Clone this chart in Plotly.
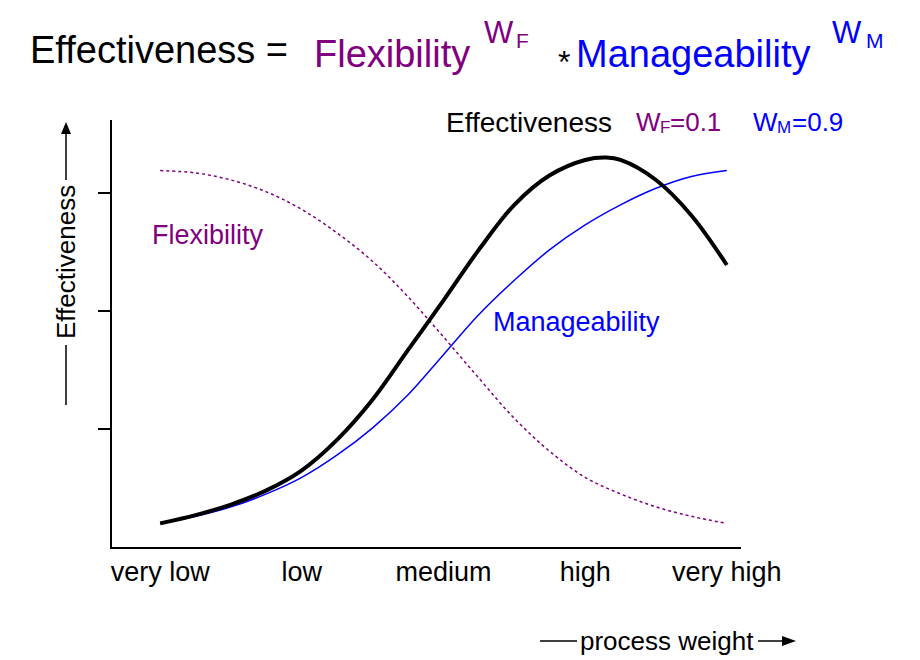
import plotly.graph_objects as go

categories = ["very low", "low", "medium", "high", "very high"]
x_pos = [0, 0.25, 0.5, 0.75, 1, 1.25, 1.5, 1.75, 2, 2.25, 2.5, 2.75, 3, 3.25, 3.5, 3.75, 4]
flexibility = [3.19, 3.17, 3.11, 3.01, 2.86, 2.66, 2.42, 2.12, 1.78, 1.43, 1.09, 0.81, 0.59, 0.45, 0.34, 0.26, 0.20]
manageability = [0.20, 0.26, 0.34, 0.45, 0.59, 0.78, 1.01, 1.29, 1.63, 1.97, 2.26, 2.52, 2.73, 2.90, 3.04, 3.14, 3.19]
eff_x = [0, 0.25, 0.5, 0.75, 1, 1.25, 1.5, 1.75, 2, 2.25, 2.5, 2.75, 3, 3.15, 3.25, 3.5, 3.75, 4]
effectiveness = [0.20, 0.27, 0.36, 0.48, 0.65, 0.91, 1.25, 1.67, 2.09, 2.52, 2.90, 3.15, 3.28, 3.30, 3.28, 3.11, 2.81, 2.39]

PURPLE = "#800080"
BLUE = "#0000FF"
FONT = "Liberation Sans, Arial"

L, R, T, B = 112, 741, 120, 547
OFF = 8
def px(x): return (x - L) / (R - L)
def py(y): return (B - y) / (B - T)

fig = go.Figure()
fig.add_trace(go.Scatter(x=x_pos, y=flexibility, mode="lines", line=dict(color=PURPLE, width=1.5, dash="dot", shape="spline")))
fig.add_trace(go.Scatter(x=x_pos, y=manageability, mode="lines", line=dict(color=BLUE, width=1.5, shape="spline")))
fig.add_trace(go.Scatter(x=eff_x, y=effectiveness, mode="lines", line=dict(color="black", width=4, shape="spline")))

anns = []
def t(x, y, s, size, color="black", anchor="left", angle=0):
    anns.append(dict(xref="paper", yref="paper", x=px(x), y=py(y), text=s, showarrow=False,
                     xanchor=anchor, yanchor="middle", textangle=angle,
                     font=dict(family=FONT, size=size, color=color)))

t(28, 50, "Effectiveness =", 38)
t(312, 54, "Flexibility", 38, PURPLE)
t(482, 32, "W", 31, PURPLE)
t(514, 40, "F", 21, PURPLE)
t(556, 62, "*", 32)
t(574, 54, "Manageability", 38, BLUE)
t(830, 32, "W", 31, BLUE)
t(864, 40, "M", 21, BLUE)

t(444, 122, "Effectiveness", 28)
t(634, 122, "W", 26, PURPLE)
t(658, 127, "F", 17, PURPLE)
t(668, 122, "=0.1", 26, PURPLE)
t(751, 122, "W", 26, BLUE)
t(775, 127, "M", 17, BLUE)
t(790, 122, "=0.9", 26, BLUE)

t(150, 235, "Flexibility", 27, PURPLE)
t(491, 322, "Manageability", 27, BLUE)

t(66, 262, "Effectiveness", 26, anchor="center", angle=-90)
t(667, 641, "process weight", 26, anchor="center")

shapes = [
    dict(type="line", xref="paper", yref="paper", x0=px(66), x1=px(66), y0=py(405), y1=py(345), line=dict(color="black", width=1.5)),
    dict(type="line", xref="paper", yref="paper", x0=px(66), x1=px(66), y0=py(180), y1=py(132), line=dict(color="black", width=1.5)),
    dict(type="path", xref="paper", yref="paper", path=f"M {px(61)} {py(134)} L {px(71)} {py(134)} L {px(66)} {py(122)} Z", fillcolor="black", line=dict(width=0)),
    dict(type="line", xref="paper", yref="paper", x0=px(540), x1=px(577), y0=py(641), y1=py(641), line=dict(color="black", width=1.5)),
    dict(type="line", xref="paper", yref="paper", x0=px(758), x1=px(784), y0=py(641), y1=py(641), line=dict(color="black", width=1.5)),
    dict(type="path", xref="paper", yref="paper", path=f"M {px(782)} {py(636)} L {px(782)} {py(646)} L {px(796)} {py(641)} Z", fillcolor="black", line=dict(width=0)),
]

fig.update_layout(
    width=920, height=660, showlegend=False,
    plot_bgcolor="white", paper_bgcolor="white",
    margin=dict(l=L - OFF, r=920 - R + OFF, t=T - OFF, b=660 - B + OFF),
    annotations=anns, shapes=shapes,
    xaxis=dict(range=[-0.34, 4.1], tickvals=list(range(5)), ticktext=categories,
               showline=True, linecolor="black", linewidth=2, showgrid=False, zeroline=False,
               ticks="", tickfont=dict(family=FONT, size=27, color="black")),
    yaxis=dict(range=[0, 427 / 118], tickvals=[1, 2, 3], showticklabels=False,
               showline=True, linecolor="black", linewidth=2, showgrid=False, zeroline=False,
               ticks="outside", ticklen=12, tickwidth=2, tickcolor="black"),
)
fig.write_html("out.html")
